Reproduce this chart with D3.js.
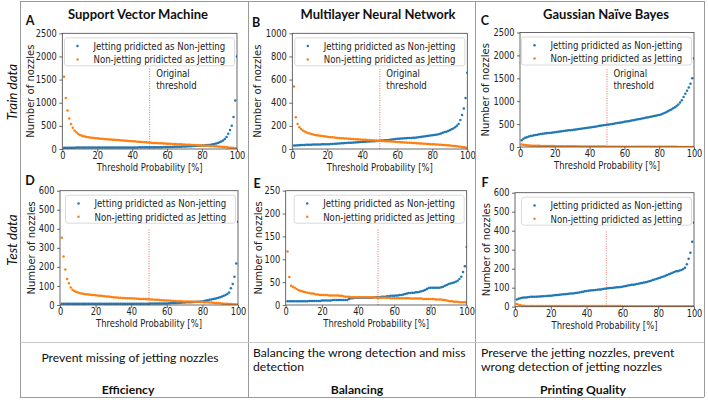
<!DOCTYPE html>
<html><head><meta charset="utf-8">
<script src="https://cdn.jsdelivr.net/npm/d3@7/dist/d3.min.js"></script>
<style>body{margin:0;background:#fff}svg{display:block}</style>
</head><body>
<svg id="chart" width="708" height="400"></svg>
<script>
// ---------------- DATA ----------------
const xTicks = [0, 20, 40, 60, 80, 100];
const yTicksA = [0, 500, 1000, 1500, 2000, 2500];
const yTicksB = [0, 200, 400, 600, 800, 1000];
const yTicksC = [0, 500, 1000, 1500, 2000, 2500];
const yTicksD = [0, 100, 200, 300, 400, 500, 600];
const yTicksE = [0, 50, 100, 150, 200, 250];
const yTicksF = [0, 100, 200, 300, 400, 500, 600];

const seriesNames = ["Jetting pridicted as Non-jetting", "Non-jetting pridicted as Jetting"];
const panelLetters = ["A", "B", "C", "D", "E", "F"];
const modelTitles = ["Support Vector Machine", "Multilayer Neural Network", "Gaussian Naïve Bayes"];
const rowLabels = ["Train data", "Test data"];
const thresholdLines = [50, 50, 50, 50, 51, 51];
const thresholdNote = ["Original", "threshold"];
const xTitle = "Threshold Probability [%]";
const yTitle = "Number of nozzles";
const goalTexts = [["Prevent missing of jetting nozzles"],
                   ["Balancing the wrong detection and miss", "detection"],
                   ["Preserve the jetting nozzles, prevent", "wrong detection of jetting nozzles"]];
const goalLabels = ["Efficiency", "Balancing", "Printing Quality"];

// thresholds 1..100 (%), one value per threshold
const svmTrainJet = [28,28,28,29,29,29,29,30,30,30, 30,30,30,30,31,31,31,31,31,31,
  31,32,32,32,32,32,32,33,33,33, 33,33,33,34,34,34,34,34,35,35,
  35,35,35,36,36,36,36,37,37,37, 38,38,38,39,39,40,40,41,41,42,
  43,44,45,46,47,48,49,50,52,54, 56,58,60,62,64,66,68,70,72,75,
  78,81,85,89,94,100,108,118,130,145, 162,185,215,260,330,410,500,690,1050,2000];
const svmTrainNon = [1560,1100,830,660,540,460,400,360,330,305, 290,278,268,260,253,247,242,238,234,230,
  226,222,219,216,213,210,207,204,201,198, 195,192,189,186,183,180,177,174,171,168,
  165,162,159,156,153,150,147,144,141,138, 135,132,130,128,126,124,122,120,118,116,
  114,112,110,108,106,104,102,100,98,96, 94,92,90,88,86,84,82,80,78,76,
  74,72,70,68,66,63,60,57,54,51, 48,45,41,37,33,29,25,20,15,10];
const mlpTrainJet = [30,31,32,33,34,35,35,36,36,37, 37,38,38,38,39,39,40,40,41,41,
  42,43,44,45,46,47,48,49,50,51, 52,53,54,55,56,57,58,59,60,61,
  62,63,64,65,66,67,68,69,70,72, 73,74,75,76,78,80,82,84,86,88,
  89,90,91,92,93,94,95,96,97,98, 100,102,104,106,108,110,112,114,116,118,
  120,123,126,130,135,140,146,150,155,162, 170,178,188,200,215,250,293,350,440,660];
const mlpTrainNon = [540,275,215,188,172,160,151,144,138,133, 129,125,122,119,116,114,112,110,108,106,
  104,102,101,99,98,96,95,93,92,91, 90,89,88,87,86,85,84,83,82,81,
  80,79,78,77,76,75,74,73,72,71, 70,69,68,67,66,65,64,63,62,61,
  60,59,58,57,56,55,54,53,52,51, 50,49,48,47,46,45,44,43,42,41,
  40,39,38,37,36,35,34,33,32,31, 29,27,25,23,21,19,17,15,12,8];
const gnbTrainJet = [150,180,200,215,228,238,247,255,262,270, 276,282,288,293,298,303,308,313,318,323,
  328,333,338,343,348,353,358,363,368,373, 378,383,388,393,398,403,408,414,420,426,
  432,438,444,450,456,462,468,474,480,486, 492,498,504,510,516,522,528,535,542,549,
  556,563,570,577,584,591,598,605,612,620, 628,636,644,652,660,668,676,684,692,700,
  712,725,740,760,780,800,820,845,870,895, 930,970,1020,1090,1160,1230,1300,1380,1500,1930];
const gnbTrainNon = [55,48,42,38,35,32,30,28,27,26, 25,24,23,22,22,21,21,20,20,19,
  19,18,18,17,17,16,16,15,15,15, 14,14,14,13,13,13,12,12,12,11,
  11,11,10,10,10,10,9,9,9,8, 8,8,8,7,7,7,7,7,6,6,
  6,6,6,6,6,5,5,5,5,5, 5,5,5,5,4,4,4,4,4,4,
  4,4,3,3,3,3,3,3,3,3, 2,2,2,2,2,2,2,2,2,2];
const svmTestJet = [7,7,7,7,7,7,7,7,7,7, 7,7,7,7,7,7,7,7,7,7,
  7,7,7,7,7,7,7,7,7,7, 7,7,7,7,7,7,7,7,7,7,
  7,7,7,7,7,7,7,7,7,7, 8,8,8,8,8,8,8,8,8,8,
  9,9,10,10,11,11,12,12,13,13, 14,14,15,15,16,16,17,17,18,19,
  21,23,25,27,29,31,33,35,38,41, 44,48,53,58,65,88,110,148,218,437];
const svmTestNon = [353,254,187,137,114,92,80,74,70,66, 63,61,59,57,56,55,54,53,52,51,
  50,49,48,47,46,45,44,43,42,41, 40,39,38,38,37,37,36,36,35,35,
  34,34,33,33,32,32,31,31,30,30, 29,29,28,28,27,26,25,25,24,23,
  23,22,22,21,21,20,20,20,19,19, 19,18,18,18,17,17,17,17,16,16,
  15,15,14,13,13,12,11,10,10,9, 8,7,6,6,5,5,4,4,3,3];
const mlpTestJet = [8,8,8,8,8,8,8,8,8,8, 8,8,9,9,9,9,9,9,9,10,
  10,10,10,10,10,11,11,11,11,11, 11,11,11,11,13,15,15,16,16,16,
  16,16,16,16,16,16,16,16,17,17, 17,17,18,18,18,19,19,20,20,20,
  21,21,22,22,23,24,25,26,26,27, 27,28,28,29,30,31,33,35,37,38,
  38,38,38,38,38,39,40,42,44,46, 47,48,49,51,53,57,62,72,85,127];
const mlpTestNon = [117,61,42,40,38,35,33,31,30,29, 28,27,26,25,25,24,23,23,22,22,
  22,22,22,21,21,21,21,21,21,20, 20,19,18,18,18,17,17,17,17,17,
  17,17,17,17,17,17,17,17,17,16, 16,16,16,16,16,16,16,15,15,15,
  15,15,15,15,15,15,15,15,14,14, 14,14,14,14,14,13,13,13,13,13,
  13,13,12,12,12,12,11,11,10,9, 8,8,7,7,7,6,6,6,6,6];
const gnbTestJet = [38,42,45,47,48,49,50,51,52,52, 53,53,54,54,55,55,56,56,57,58,
  59,60,61,62,63,64,65,66,67,68, 69,70,71,72,73,75,77,79,81,83,
  84,85,86,87,88,89,90,91,93,95, 96,97,98,99,100,101,102,103,104,105,
  107,109,111,113,115,116,117,119,121,123, 125,127,129,131,134,137,140,143,146,150,
  153,156,159,163,167,171,175,179,182,186, 187,190,193,198,205,224,252,284,342,442];
const gnbTestNon = [14,10,7,5,5,4,4,4,4,4, 4,4,4,4,4,4,4,4,4,4,
  4,4,4,4,4,4,4,4,4,4, 4,4,4,4,4,4,4,4,4,4,
  4,4,4,4,4,4,4,4,4,4, 4,4,4,4,4,4,4,4,4,4,
  3,3,3,3,3,3,3,3,3,3, 3,3,3,3,3,3,3,3,3,3,
  3,3,3,3,3,3,3,3,2,2, 2,2,2,2,2,2,2,2,2,2];

// ---------------- LAYOUT / STYLE ----------------
const SX = 0.86;                       // horizontal squeeze of the pasted plots
const MPL = "'DejaVu Sans', sans-serif";
const DOC = "Lato, 'Open Sans', sans-serif";
const colors = ["#1f77b4", "#ff7f0e"];

const panels = [
  {l: 62.3, r: 237,   t: 33.3,  b: 149,   ticks: yTicksA, s: [svmTrainJet, svmTrainNon], lx: 30,  ly: 20,  yt: 30,  note: true,  vmax: 0.70},
  {l: 292.3, r: 467.3, t: 33.3, b: 149,   ticks: yTicksB, s: [mlpTrainJet, mlpTrainNon], lx: 256, ly: 22,  yt: 257, note: true,  vmax: 0.69},
  {l: 520,  r: 694,   t: 32.5,  b: 147,   ticks: yTicksC, s: [gnbTrainJet, gnbTrainNon], lx: 485, ly: 20,  yt: 485, note: true,  vmax: 0.69},
  {l: 60,   r: 238,   t: 190.7, b: 305,   ticks: yTicksD, s: [svmTestJet, svmTestNon],   lx: 30,  ly: 180, yt: 31,  note: false, vmax: 0.66},
  {l: 285.7, r: 466.7, t: 190.7, b: 305,  ticks: yTicksE, s: [mlpTestJet, mlpTestNon],   lx: 257, ly: 183, yt: 258, note: false, vmax: 0.66},
  {l: 515,  r: 694,   t: 192.7, b: 306.7, ticks: yTicksF, s: [gnbTestJet, gnbTestNon],   lx: 485, ly: 182, yt: 486, note: false, vmax: 0.66}
];
const titleX = [138, 378, 606];

const svg = d3.select("#chart");

function sText(parent, x, y, str, anchor, size) {
  return parent.append("text")
    .attr("transform", `translate(${x},${y}) scale(${SX},1)`)
    .attr("text-anchor", anchor || "start")
    .attr("dominant-baseline", "central")
    .style("font-family", MPL).style("font-size", (size || 10) + "px")
    .attr("fill", "#222").text(str);
}

panels.forEach((p, i) => {
  const x = d3.scaleLinear().domain([0, 100]).range([p.l, p.r]);
  const ymax = p.ticks[p.ticks.length - 1];
  const y = d3.scaleLinear().domain([0, ymax]).range([p.b, p.t]);
  const g = svg.append("g");

  const cid = "clip" + i;
  svg.append("clipPath").attr("id", cid).append("rect")
    .attr("x", p.l).attr("y", p.t).attr("width", p.r - p.l).attr("height", p.b - p.t);

  // threshold line
  const tl = thresholdLines[i];
  g.append("line").attr("x1", x(tl)).attr("x2", x(tl))
    .attr("y1", y(0)).attr("y2", y(ymax * p.vmax))
    .attr("stroke", "#f04a3a").attr("stroke-width", 0.8).attr("stroke-dasharray", "1,1.4");

  // dots
  const dg = g.append("g").attr("clip-path", `url(#${cid})`);
  p.s.forEach((arr, k) => {
    dg.selectAll(null).data(arr).enter().append("circle")
      .attr("cx", (d, j) => x(j + 1)).attr("cy", d => y(d))
      .attr("r", 1.25).attr("fill", colors[k]);
  });

  // frame
  g.append("rect").attr("x", p.l).attr("y", p.t).attr("width", p.r - p.l).attr("height", p.b - p.t)
    .attr("fill", "none").attr("stroke", "#444").attr("stroke-width", 0.8);

  // axes
  const ax = g.append("g").attr("transform", `translate(0,${p.b})`)
    .call(d3.axisBottom(x).tickValues(xTicks).tickSize(3).tickPadding(0.5).tickFormat(d3.format("d")));
  const ay = g.append("g").attr("transform", `translate(${p.l},0)`)
    .call(d3.axisLeft(y).tickValues(p.ticks).tickSize(3).tickPadding(2.5).tickFormat(d3.format("d")));
  [ax, ay].forEach(a => {
    a.select(".domain").remove();
    a.selectAll(".tick line").attr("stroke", "#444").attr("stroke-width", 0.8);
    a.selectAll(".tick text").style("font-family", MPL).style("font-size", "9.6px").attr("fill", "#222");
  });
  ax.selectAll(".tick text").attr("transform", `scale(${SX},1)`);
  ay.selectAll(".tick text").attr("x", -5.5 / SX).attr("transform", `scale(${SX},1)`);

  // axis titles
  sText(g, (p.l + p.r) / 2, p.b + 18.7, xTitle, "middle", 9.8);
  g.append("text").attr("transform", `translate(${p.yt},${(p.t + p.b) / 2}) rotate(-90)`)
    .attr("text-anchor", "middle").attr("dominant-baseline", "central")
    .style("font-family", MPL).style("font-size", "10px").attr("fill", "#222").text(yTitle);

  // note
  if (p.note) {
    thresholdNote.forEach((s, k) => sText(g, x(tl) + 6.5, 73 + k * 12.5, s, "start"));
  }

  // legend
  const bw = 170, bh = 28;
  const bx = p.r - 2.5 - bw, by = p.t + 4.5;
  g.append("rect").attr("x", bx).attr("y", by).attr("width", bw).attr("height", bh).attr("rx", 2.5)
    .attr("fill", "rgba(255,255,255,0.8)").attr("stroke", "#d0d0d0").attr("stroke-width", 0.8);
  seriesNames.forEach((nm, k) => {
    const yy = by + 8.3 + k * 13.3;
    g.append("circle").attr("cx", bx + 13).attr("cy", yy).attr("r", 1.25).attr("fill", colors[k]);
    sText(g, bx + 29, yy, nm, "start");
  });

  // panel letter
  svg.append("text").attr("x", p.lx).attr("y", p.ly).attr("text-anchor", "middle")
    .attr("dominant-baseline", "central")
    .style("font-family", DOC).style("font-weight", "bold").style("font-size", "12.5px")
    .attr("fill", "#111").text(panelLetters[i]);
});

// model titles
modelTitles.forEach((t, i) => {
  svg.append("text").attr("x", titleX[i]).attr("y", 14).attr("text-anchor", "middle")
    .attr("dominant-baseline", "central")
    .style("font-family", DOC).style("font-weight", "bold").style("font-size", "13px")
    .attr("fill", "#111").text(t);
});

// row labels
const rowY = [92, 240];
rowLabels.forEach((t, i) => {
  svg.append("text").attr("transform", `translate(12,${rowY[i]}) rotate(-90)`)
    .attr("text-anchor", "middle").attr("dominant-baseline", "central")
    .style("font-family", DOC).style("font-style", "italic").style("font-size", "13.5px")
    .attr("fill", "#111").text(t);
});

// table lines
const tb = {l: 20, r: 704, t: 1, b: 397, mid: 342, c1: 248, c2: 475};
const lineG = svg.append("g").attr("stroke", "#9a9a9a").attr("stroke-width", 1).attr("shape-rendering", "crispEdges");
[[tb.l, tb.t, tb.r, tb.t], [tb.l, tb.b, tb.r, tb.b], [tb.l, tb.t, tb.l, tb.b], [tb.r, tb.t, tb.r, tb.b],
 [tb.c1, tb.t, tb.c1, tb.b], [tb.c2, tb.t, tb.c2, tb.b]].forEach(c =>
  lineG.append("line").attr("x1", c[0]).attr("y1", c[1]).attr("x2", c[2]).attr("y2", c[3]));
lineG.append("line").attr("x1", tb.l).attr("x2", tb.r).attr("y1", tb.mid).attr("y2", tb.mid).attr("stroke", "#c8c8c8");

// goal texts
const colX = [[130, "middle"], [253, "start"], [481, "start"]];
const colC = [128, 357, 583];
goalTexts.forEach((lines, i) => {
  const y0 = lines.length === 1 ? 357 : 352;
  lines.forEach((s, k) => {
    svg.append("text").attr("x", colX[i][0]).attr("y", y0 + k * 14.5)
      .attr("text-anchor", colX[i][1]).attr("dominant-baseline", "central")
      .style("font-family", DOC).style("font-size", "12.2px").attr("fill", "#111").text(s);
  });
  svg.append("text").attr("x", colC[i]).attr("y", 389).attr("text-anchor", "middle")
    .attr("dominant-baseline", "central")
    .style("font-family", DOC).style("font-weight", "bold").style("font-size", "12.2px")
    .attr("fill", "#111").text(goalLabels[i]);
});
</script>
</body></html>
